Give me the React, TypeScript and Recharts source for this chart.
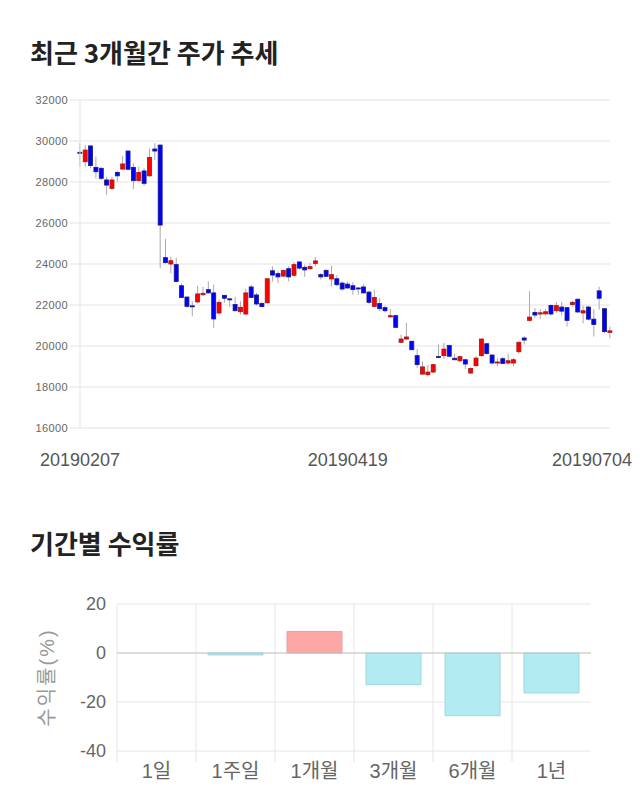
import { ComposedChart, BarChart, Bar, XAxis, YAxis, CartesianGrid, Cell, ReferenceLine } from "recharts";

// daily candles, 20190207 ~ 20190704
const OPEN = [
  29450, 28990, 29760, 28715, 28670, 28100, 27690, 28470, 28630, 29510,
  28715, 28065, 28540, 28300, 29610, 29800, 24310, 24000, 23970, 22940,
  22390, 21960, 22150, 22500, 22750, 22590, 21610, 22470, 22300, 22020,
  21670, 21560, 22880, 22490, 22080, 22110, 23670, 23530, 23410, 23770,
  23450, 24100, 23840, 23770, 24030, 23480, 23690, 23270, 23280, 23070,
  23020, 22940, 22830, 22880, 22630, 21930, 22070, 21870, 21420, 21480,
  20180, 20340, 20230, 19530, 18630, 18600, 18730, 19490, 19530, 20020,
  19400, 19280, 19330, 18680, 19040, 19530, 20110, 19560, 19170, 19380,
  19170, 19170, 19720, 20390, 21250, 21640, 21560, 21570, 21980, 21720,
  21900, 21870, 22020, 22280, 21610, 21900, 21310, 22690, 21820, 20660,
];
const HIGH = [
  29890, 29800, 29780, 29240, 28715, 28260, 28260, 28540, 29280, 29560,
  28910, 28750, 28670, 29640, 29890, 29840, 25220, 24360, 24310, 23060,
  22400, 22180, 22940, 22880, 23150, 22990, 22260, 22500, 22340, 22390,
  22180, 22780, 22990, 22590, 22130, 23310, 23890, 23640, 23720, 23890,
  24100, 24130, 23970, 24050, 24340, 23560, 23750, 23920, 23450, 23150,
  23150, 23120, 22880, 23020, 22700, 22750, 22340, 21970, 21800, 21530,
  20550, 21120, 20260, 19850, 19250, 19090, 19140, 20070, 20150, 20070,
  19630, 19530, 19370, 18960, 19490, 20370, 20150, 19590, 19410, 19460,
  19620, 19410, 20230, 20470, 22670, 21850, 21800, 21800, 22020, 22150,
  22150, 21900, 22210, 22340, 21970, 21970, 21800, 22890, 21850, 20950,
];
const LOW = [
  28750, 28750, 28670, 28180, 28100, 27370, 27610, 28020, 28590, 28590,
  27660, 28020, 27820, 28260, 29070, 23790, 24030, 23550, 23100, 22330,
  21870, 21450, 22080, 22420, 22550, 20880, 21530, 22100, 21900, 21690,
  21530, 21530, 22340, 21970, 21900, 22090, 23150, 23070, 23370, 23150,
  23400, 23720, 23370, 23720, 23890, 23240, 23370, 22910, 22910, 22700,
  22780, 22500, 22500, 22550, 22060, 21900, 21690, 21640, 21370, 20880,
  20150, 20310, 19790, 18930, 18600, 18520, 18680, 19410, 19370, 19450,
  19300, 19220, 18880, 18650, 18980, 19470, 19580, 19090, 19010, 19120,
  19090, 19010, 19620, 20070, 21200, 21360, 21310, 21480, 21490, 21610,
  21490, 20950, 21930, 21610, 21110, 21250, 20460, 21770, 20620, 20380,
];
const CLOSE = [
  29400, 29560, 28800, 28500, 28180, 27850, 28100, 28300, 28880, 28620,
  28065, 28470, 27935, 29200, 29510, 25900, 24065, 24160, 23150, 22370,
  21935, 21930, 22540, 22570, 22590, 21320, 22130, 22330, 22280, 21720,
  21890, 22590, 22370, 22050, 21920, 23280, 23460, 23370, 23690, 23370,
  23970, 23800, 23710, 23870, 24150, 23370, 23400, 23480, 22990, 22780,
  22830, 22750, 22810, 22590, 22130, 22370, 21820, 21720, 21480, 20910,
  20340, 20440, 19820, 19090, 18980, 18730, 19090, 19470, 19850, 19500,
  19330, 19480, 19120, 18900, 19410, 20340, 19630, 19170, 19220, 19150,
  19280, 19330, 20180, 20290, 21410, 21510, 21620, 21670, 21560, 21970,
  21700, 21250, 22130, 21660, 21720, 21310, 21050, 22330, 20700, 20740,
];
const DATE_TICKS = [0, 50, 99];
const DATE_LABELS = ["20190207", "20190419", "20190704"];
const PRICE_TICKS = [16000, 18000, 20000, 22000, 24000, 26000, 28000, 30000, 32000];

const PERIODS = ["1일", "1주일", "1개월", "3개월", "6개월", "1년"];
const RETURNS = [0, -0.8, 8.8, -12.9, -25.6, -16.3];
const RETURN_TICKS = [-40, -20, 0, 20];

const candles = OPEN.map((o, i) => ({
  i,
  open: o,
  high: HIGH[i],
  low: LOW[i],
  close: CLOSE[i],
  range: [LOW[i], HIGH[i]],
}));

const returns = PERIODS.map((name, i) => ({ name, value: RETURNS[i] }));

const Candle = (props: any) => {
  const { x, y, width, height, payload } = props;
  const { open, close, high, low } = payload;
  const cx = x + width / 2;
  const toY = (v: number) => y + ((high - v) / (high - low || 1)) * height;
  const up = close >= open;
  const top = toY(Math.max(open, close));
  const bottom = toY(Math.min(open, close));
  return (
    <g>
      <line x1={cx} x2={cx} y1={y} y2={y + height} stroke="#a9a9a9" strokeWidth={1} />
      <rect
        x={cx - 2}
        y={top}
        width={4}
        height={Math.max(bottom - top, 1)}
        fill={up ? "#ff0000" : "#0000ff"}
        stroke={up ? "#a31616" : "#1a1a80"}
        strokeWidth={0.8}
      />
    </g>
  );
};

const DateTick = (props: any) => {
  const { x, y, payload } = props;
  const label = DATE_LABELS[DATE_TICKS.indexOf(payload.value)];
  return (
    <text x={Math.min(x, 592)} y={y} dy="0.71em" textAnchor="middle" fontSize={18} fill="#555">
      {label}
    </text>
  );
};

// period label plus a short mark on the left edge of its band
const PeriodTick = (props: any) => {
  const { x, y, payload } = props;
  const half = payload.offset ?? 0;
  return (
    <g>
      <line x1={x - half} x2={x - half} y1={y} y2={y + 11} stroke="#e3e3e3" />
      <text x={x} y={y + 13} dy="0.71em" textAnchor="middle" fontSize={20} fill="#666">
        {payload.value}
      </text>
    </g>
  );
};

const YLabel = (props: any) => {
  const { viewBox } = props;
  const cx = viewBox.x + 27;
  const cy = viewBox.y + viewBox.height / 2;
  return (
    <text
      x={cx}
      y={cy}
      transform={`rotate(-90 ${cx} ${cy})`}
      textAnchor="middle"
      dominantBaseline="central"
      fontSize={20}
      letterSpacing={2}
      fill="#999"
    >
      수익률(%)
    </text>
  );
};

const titleStyle: React.CSSProperties = {
  position: "absolute",
  left: 30,
  fontSize: 26,
  lineHeight: "26px",
  fontWeight: 700,
  color: "#222",
  fontFamily: "'Noto Sans CJK KR', sans-serif",
  whiteSpace: "nowrap",
};

export default function App() {
  return (
    <div
      style={{
        position: "absolute",
        left: 0,
        top: 0,
        width: 640,
        height: 810,
        background: "#fff",
        fontFamily: "'Liberation Sans', 'Noto Sans CJK KR', sans-serif",
      }}
    >
      <div style={{ ...titleStyle, top: 39 }}>최근 3개월간 주가 추세</div>
      <div style={{ position: "absolute", left: 0, top: 0 }}>
        <ComposedChart width={640} height={480} data={candles} margin={{ top: 100, right: 30, left: 0, bottom: 0 }}>
          <CartesianGrid vertical={false} stroke="#e3e3e3" />
          <XAxis
            dataKey="i"
            type="category"
            ticks={DATE_TICKS}
            interval={0}
            tick={<DateTick />}
            tickLine={false}
            axisLine={false}
            tickMargin={19}
            height={52}
            padding={{ left: -2.68, right: -2.68 }}
          />
          <YAxis
            domain={[16000, 32000]}
            ticks={PRICE_TICKS}
            interval={0}
            width={80}
            tickSize={10}
            tickLine={{ stroke: "#e3e3e3" }}
            axisLine={{ stroke: "#e3e3e3" }}
            tick={{ fontSize: 11, fill: "#666", letterSpacing: 0.4 }}
          />
          <Bar dataKey="range" shape={<Candle />} isAnimationActive={false} />
        </ComposedChart>
      </div>

      <div style={{ ...titleStyle, top: 530 }}>기간별 수익률</div>
      <div style={{ position: "absolute", left: 0, top: 560 }}>
        <BarChart width={640} height={250} data={returns} margin={{ top: 44, right: 49, left: 20, bottom: 0 }}>
          <CartesianGrid vertical={false} stroke="#e6e6e6" />
          {PERIODS.map((p) => (
            <ReferenceLine key={p} x={p} position="start" stroke="#e6e6e6" />
          ))}
          <XAxis
            dataKey="name"
            tickLine={false}
            axisLine={false}
            tickSize={0}
            tickMargin={0}
            height={59}
            interval={0}
            tick={<PeriodTick />}
          />
          <YAxis
            domain={[-40, 20]}
            ticks={RETURN_TICKS}
            interval={0}
            width={97}
            tickLine={false}
            axisLine={false}
            tickMargin={5}
            tick={{ fontSize: 18, fill: "#666" }}
            label={<YLabel />}
          />
          <ReferenceLine y={0} stroke="#c4c4c4" />
          <Bar dataKey="value" barSize={55} isAnimationActive={false}>
            {returns.map((d) => (
              <Cell
                key={d.name}
                fill={d.value >= 0 ? "#ffa6a6" : "#b2ebf2"}
                stroke={d.value >= 0 ? "#eaa0a0" : "#9ed6de"}
              />
            ))}
          </Bar>
        </BarChart>
      </div>
    </div>
  );
}
